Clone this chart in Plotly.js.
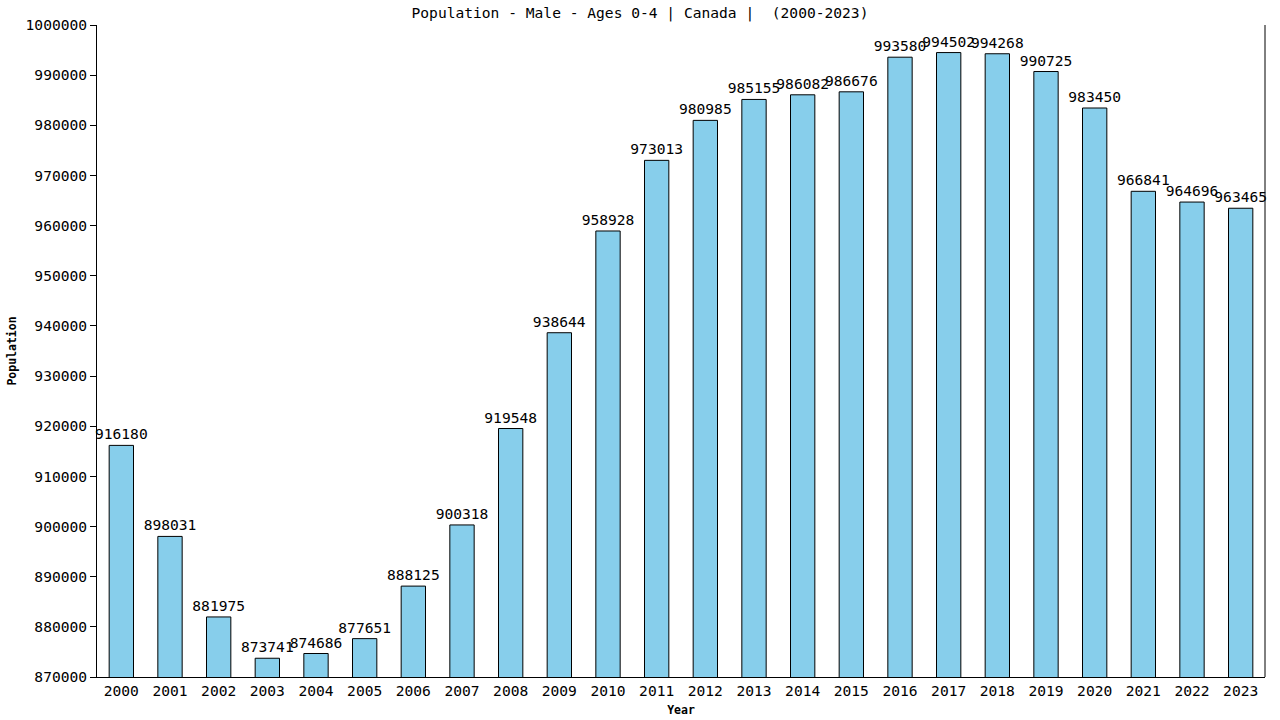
<!DOCTYPE html>
<html>
<head>
<meta charset="utf-8">
<script src="https://cdn.plot.ly/plotly-3.0.1.min.js"></script>
<style>
    html, body { margin: 0; padding: 0; background: #fff; }
    #chart { width: 1280px; height: 720px; }
</style>
</head>
<body>
<div id="chart"></div>
<script>
// Population - Male - Ages 0-4, Canada
const years = ['2000', '2001', '2002', '2003', '2004', '2005', '2006', '2007',
    '2008', '2009', '2010', '2011', '2012', '2013', '2014', '2015',
    '2016', '2017', '2018', '2019', '2020', '2021', '2022', '2023'];
const population = [916180, 898031, 881975, 873741, 874686, 877651, 888125, 900318,
    919548, 938644, 958928, 973013, 980985, 985155, 986082, 986676,
    993580, 994502, 994268, 990725, 983450, 966841, 964696, 963465];

const FONT = 'DejaVu Sans Mono, monospace';

const trace = {
    type: 'bar',
    x: years,
    y: population,
    width: 0.5,
    text: population.map(String),
    textposition: 'outside',
    cliponaxis: false,
    constraintext: 'none',
    textfont: { family: FONT, size: 14.6, color: '#000' },
    marker: { color: '#87ceeb', line: { color: '#000', width: 1 } },
    hoverinfo: 'x+y'
};

const layout = {
    width: 1280,
    height: 720,
    paper_bgcolor: '#fff',
    plot_bgcolor: '#fff',
    font: { family: FONT, size: 14.6, color: '#000' },
    margin: { l: 97, r: 15, t: 25, b: 43 },
    showlegend: false,
    title: {
        text: 'Population - Male - Ages 0-4 | Canada |  (2000-2023)',
        font: { family: FONT, size: 14.6, color: '#000' },
        x: 0.5, xref: 'container', xanchor: 'center',
        y: 0.982, yanchor: 'middle'
    },
    xaxis: {
        type: 'category',
        range: [-0.5, 23.5],
        showline: true, linecolor: '#000', linewidth: 1,
        ticks: '', showgrid: false, zeroline: false,
        tickfont: { family: FONT, size: 14.6 },
        title: { text: 'Year', font: { family: FONT, size: 11.5, weight: 'bold' }, standoff: 8 }
    },
    yaxis: {
        range: [870000, 1000000],
        dtick: 10000,
        tickformat: 'd',
        showline: true, linecolor: '#000', linewidth: 1,
        ticks: 'outside', ticklen: 6, tickcolor: '#000',
        showgrid: false, zeroline: false,
        tickfont: { family: FONT, size: 14.6 },
        title: { text: 'Population', font: { family: FONT, size: 11.5, weight: 'bold' }, standoff: 6 }
    },
    shapes: [{
        type: 'line', xref: 'paper', yref: 'paper',
        x0: 1, x1: 1, y0: 0, y1: 1,
        line: { color: '#000', width: 1 }
    }]
};

Plotly.newPlot('chart', [trace], layout, { displayModeBar: false, staticPlot: true });
</script>
</body>
</html>
